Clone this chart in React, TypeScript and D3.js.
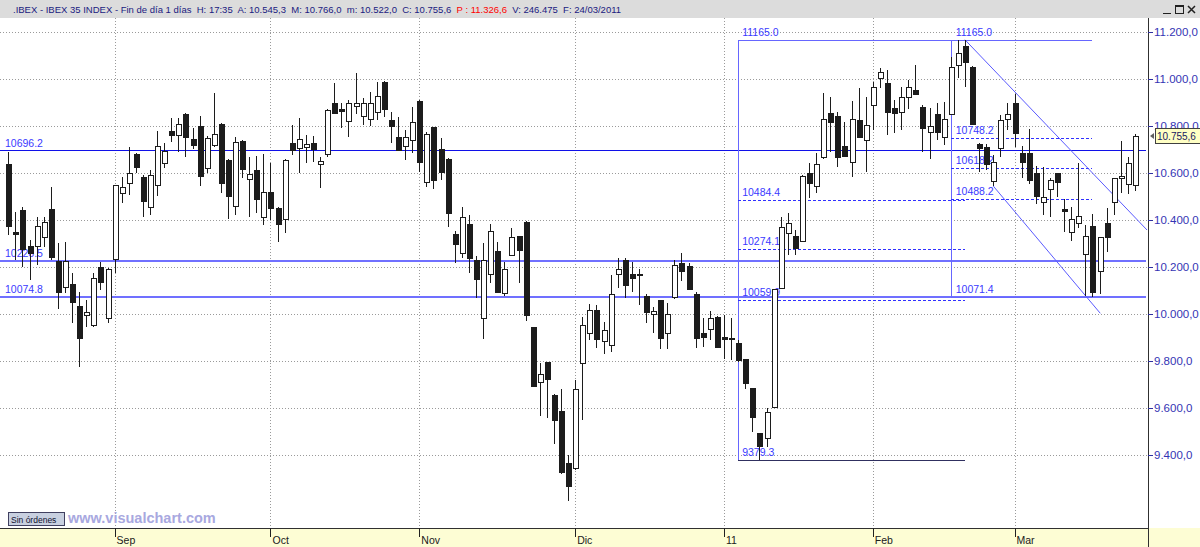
import React, { useEffect, useRef } from "react";
import * as d3 from "d3";

// IBEX 35 daily candles, 11 Aug 2010 .. 24 Mar 2011
const opens = [
  10635, 10346, 10441, 10288, 10288, 10325, 10444, 10223, 10115, 10127,
  10034, 9994, 9952, 10200, 9980, 10231, 10515, 10557, 10679, 10580,
  10453, 10546, 10642, 10778, 10760, 10849, 10742, 10800, 10621, 10717,
  10807, 10655, 10458, 10734, 10573, 10611, 10410, 10519, 10451, 10404,
  10727, 10703, 10708, 10726, 10638, 10679, 10897, 10870, 10819, 10883,
  10841, 10829, 10859, 10987, 10824, 10750, 10713, 10739, 10904, 10561,
  10793, 10699, 10658, 10338, 10257, 10381, 10228, 9981, 10168, 10268,
  10087, 10251, 10330, 10391, 9942, 9709, 9793, 9654, 9588, 9367,
  9345, 9789, 9917, 10016, 9885, 9866, 10169, 10228, 10169, 10167,
  10075, 9999, 10058, 9917, 10072, 10217, 10203, 10083, 9919, 9934,
  9987, 9900, 9897, 9876, 9806, 9683, 9492, 9470, 9605, 10108,
  10342, 10330, 10310, 10597, 10543, 10665, 10852, 10841, 10713, 10644,
  10824, 10739, 10888, 11002, 10982, 10876, 10856, 10920, 10951, 10880,
  10771, 10848, 10750, 10849, 11057, 11140, 11050, 10722, 10708, 10566,
  10703, 10828, 10897, 10685, 10685, 10597, 10476, 10530, 10597, 10447,
  10346, 10387, 10253, 10374, 10183, 10384, 10474, 10578, 10550, 10545.3,
];
const highs = [
  10689, 10434, 10455, 10313, 10413, 10413, 10540, 10302, 10306, 10172,
  10094, 10058, 10172, 10221, 10193, 10547, 10583, 10710, 10682, 10590,
  10611, 10777, 10727, 10831, 10831, 10855, 10788, 10841, 10756, 10937,
  10812, 10660, 10750, 10738, 10668, 10672, 10679, 10640, 10455, 10657,
  10803, 10831, 10760, 10756, 10668, 10870, 10982, 10895, 10909, 11022,
  10916, 10944, 10987, 10990, 10859, 10838, 10781, 10880, 10908, 10774,
  10795, 10746, 10661, 10353, 10452, 10420, 10245, 10300, 10380, 10304,
  10221, 10366, 10332, 10394, 9945, 9789, 9795, 9659, 9679, 9399,
  9718, 9987, 10040, 10037, 9966, 10165, 10236, 10236, 10221, 10189,
  10083, 10030, 10060, 10044, 10228, 10257, 10214, 10094, 9981, 10012,
  9990, 9994, 9981, 9890, 9808, 9685, 9495, 9598, 10104, 10413,
  10427, 10356, 10590, 10640, 10682, 10940, 10923, 10859, 10816, 10904,
  10958, 10923, 10987, 11045, 11036, 10910, 10965, 10994, 11057, 10887,
  10873, 10895, 10902, 11093, 11165, 11165, 11053, 10725, 10722, 10675,
  10845, 10895, 10934, 10713, 10784, 10628, 10625, 10576, 10600, 10487,
  10455, 10640, 10377, 10424, 10325, 10450, 10578, 10736, 10665, 10766.0,
];
const lows = [
  10335, 10229, 10200, 10143, 10207, 10285, 10228, 10019, 10087, 9959,
  9775, 9945, 9945, 10101, 9959, 10172, 10470, 10505, 10600, 10412,
  10420, 10500, 10618, 10731, 10689, 10668, 10699, 10543, 10597, 10710,
  10512, 10402, 10420, 10576, 10412, 10427, 10377, 10399, 10306, 10342,
  10675, 10597, 10639, 10646, 10533, 10665, 10848, 10788, 10753, 10849,
  10802, 10798, 10824, 10835, 10727, 10694, 10654, 10682, 10604, 10540,
  10529, 10569, 10370, 10217, 10236, 10172, 10066, 9891, 10132, 10090,
  10075, 10245, 10132, 9969, 9690, 9565, 9555, 9446, 9319, 9205,
  9336, 9548, 9888, 9853, 9828, 9836, 10108, 10066, 10094, 10037,
  9959, 9919, 9850, 9850, 10061, 10140, 10101, 9853, 9860, 9888,
  9856, 9806, 9803, 9795, 9679, 9498, 9379.3, 9435, 9600, 10105,
  10250, 10250, 10305, 10491, 10515, 10660, 10689, 10625, 10668, 10580,
  10748, 10604, 10781, 10960, 10760, 10770, 10781, 10869, 10930, 10689,
  10657, 10739, 10717, 10845, 11001, 10965, 10805, 10604, 10611, 10543,
  10668, 10781, 10708, 10576, 10552, 10467, 10420, 10412, 10498, 10349,
  10311, 10363, 10075, 10071.4, 10084, 10261, 10420, 10512, 10509, 10522.0,
];
const closes = [
  10374, 10340, 10274, 10260, 10373, 10391, 10240, 10094, 10223, 10051,
  9895, 10006, 10151, 10136, 10189, 10546, 10537, 10600, 10623, 10480,
  10590, 10715, 10693, 10761, 10807, 10753, 10717, 10586, 10746, 10764,
  10555, 10500, 10729, 10615, 10593, 10489, 10516, 10451, 10381, 10654,
  10696, 10742, 10720, 10702, 10648, 10866, 10852, 10863, 10897, 10895,
  10897, 10897, 10926, 10869, 10798, 10696, 10753, 10814, 10646, 10764,
  10569, 10603, 10427, 10295, 10410, 10236, 10149, 10228, 10350, 10094,
  10190, 10325, 10271, 9995, 9693, 9742, 9724, 9548, 9326, 9267,
  9679, 9951, 10016, 9891, 9931, 10083, 10189, 10122, 10153, 10165,
  10009, 10012, 9898, 10001, 10207, 10183, 10106, 9898, 9902, 9981,
  9860, 9891, 9891, 9803, 9704, 9562, 9438, 9583, 10104, 10370,
  10387, 10281, 10586, 10557, 10637, 10828, 10816, 10665, 10671, 10829,
  10750, 10803, 10965, 11028, 10859, 10855, 10923, 10965, 10934, 10791,
  10800, 10774, 10827, 11048, 11110, 11069, 10807, 10703, 10637, 10646,
  10824, 10849, 10767, 10646, 10569, 10501, 10498, 10569, 10560, 10436,
  10401, 10416, 10332, 10094, 10325, 10327, 10578, 10586, 10640, 10755.6,
];

const monthLabels = ["Sep", "Oct", "Nov", "Dic", "11", "Feb", "Mar"];
const monthStartBars = [15, 37, 58, 80, 101, 122, 142];
const priceTicks = [9400, 9600, 9800, 10000, 10200, 10400, 10600, 10800, 11000, 11200];

// horizontal support / resistance lines
const levelLines = [10696.2, 10226.5, 10074.8];
const levelLabels = ["10696.2", "10226.5", "10074.8"];

// retracement A (rally from Dec low), retracement B (Feb top)
const swingHigh = 11165.0;
const swingLowA = 9379.3;
const swingLowB = 10071.4;
const retraceA = [10484.4, 10274.1, 10059.9];
const retraceB = [10748.2, 10618.2, 10488.2];
const retraceBarsA = [103, 135];
const retraceBarsB = [133, 153];
const topLineEndBar = 153;

// descending channel: [bar, price]
const channelUpper = [[135, 11165], [160.7, 10356]];
const channelLower = [[139, 10543], [154.1, 10002]];

const lastPrice = 10755.6;
const headerParts = [
  { t: ".IBEX - IBEX 35 INDEX - Fin de día 1 días  H: 17:35  A: 10.545,3  M: 10.766,0  m: 10.522,0  C: 10.755,6  ", c: "#1a1a80" },
  { t: "P : 11.326,6", c: "#ff0000" },
  { t: "  V: 246.475  F: 24/03/2011", c: "#1a1a80" },
];

const W = 1200;
const H = 547;
const plotRight = 1148;
const plotTop = 18;
const plotBottom = 528;
const font = "'Liberation Sans', Arial, sans-serif";

export default function App() {
  const ref = useRef<SVGSVGElement>(null);

  useEffect(() => {
    const svg = d3.select(ref.current);
    svg.selectAll("*").remove();

    const x = d3.scaleLinear().domain([0, 159]).range([8.3, 1135]);
    const y = d3.scaleLinear().domain([9400, 11200]).range([454.9, 31.5]);
    const fmt = d3.formatLocale({ decimal: ",", thousands: ".", grouping: [3], currency: ["", ""] }).format(",.1f");
    const px = (v: number) => Math.round(v) + 0.5;

    // backgrounds
    svg.append("rect").attr("width", W).attr("height", H).attr("fill", "#ffffff");
    svg.append("rect").attr("x", 0).attr("y", plotBottom).attr("width", W).attr("height", H - plotBottom).attr("fill", "#fdfdd4");
    svg.append("rect").attr("x", 0).attr("y", 0).attr("width", W).attr("height", plotTop).attr("fill", "#dcdcdc");

    // grid
    const grid = svg.append("g").attr("stroke", "#9a9a9a").attr("stroke-dasharray", "1,2").attr("shape-rendering", "crispEdges");
    grid.selectAll("line.h").data(priceTicks).join("line")
      .attr("x1", 0).attr("x2", plotRight).attr("y1", (d) => px(y(d))).attr("y2", (d) => px(y(d)));
    grid.selectAll("line.v").data(monthStartBars).join("line")
      .attr("x1", (d) => px(x(d))).attr("x2", (d) => px(x(d))).attr("y1", plotTop).attr("y2", plotBottom);

    // level lines
    const lv = svg.append("g").attr("shape-rendering", "crispEdges");
    lv.selectAll("line").data(levelLines).join("line")
      .attr("x1", 0).attr("x2", plotRight - 2)
      .attr("y1", (d) => px(y(d))).attr("y2", (d) => px(y(d)))
      .attr("stroke", (d, i) => (i === 0 ? "#1010e8" : "#7070ff"))
      .attr("stroke-width", (d, i) => (i === 0 ? 1 : 2));
    lv.selectAll("text").data(levelLines).join("text")
      .attr("x", 5).attr("y", (d) => y(d) - 3)
      .attr("fill", "#3a3aff").attr("font-size", 10.5).attr("font-family", font)
      .text((d, i) => levelLabels[i]);

    // retracement boxes
    const fib = svg.append("g").attr("shape-rendering", "crispEdges");
    const solid = "#6666ff";
    const dash = "#3030ff";
    fib.append("line").attr("x1", px(x(retraceBarsA[0]))).attr("x2", px(x(retraceBarsA[0])))
      .attr("y1", y(swingHigh)).attr("y2", y(swingLowA)).attr("stroke", solid).attr("stroke-width", 1.5);
    fib.append("line").attr("x1", x(retraceBarsA[0])).attr("x2", x(topLineEndBar))
      .attr("y1", px(y(swingHigh))).attr("y2", px(y(swingHigh))).attr("stroke", solid).attr("stroke-width", 1.5);
    fib.append("line").attr("x1", x(retraceBarsA[0])).attr("x2", x(retraceBarsA[1]))
      .attr("y1", px(y(swingLowA))).attr("y2", px(y(swingLowA))).attr("stroke", "#303060").attr("stroke-width", 1);
    fib.selectAll("line.ra").data(retraceA).join("line")
      .attr("x1", x(retraceBarsA[0])).attr("x2", x(retraceBarsA[1]))
      .attr("y1", (d) => px(y(d))).attr("y2", (d) => px(y(d)))
      .attr("stroke", dash).attr("stroke-dasharray", "3,2");
    fib.append("line").attr("x1", px(x(retraceBarsB[0]))).attr("x2", px(x(retraceBarsB[0])))
      .attr("y1", y(swingHigh)).attr("y2", y(swingLowB)).attr("stroke", solid).attr("stroke-width", 1.5);
    fib.append("line").attr("x1", x(retraceBarsB[0])).attr("x2", x(retraceBarsB[1]))
      .attr("y1", px(y(swingLowB))).attr("y2", px(y(swingLowB))).attr("stroke", solid).attr("stroke-width", 1.5);
    fib.selectAll("line.rb").data(retraceB).join("line")
      .attr("x1", x(retraceBarsB[0])).attr("x2", x(retraceBarsB[1]))
      .attr("y1", (d) => px(y(d))).attr("y2", (d) => px(y(d)))
      .attr("stroke", dash).attr("stroke-dasharray", "3,2");

    const labA = [swingHigh, ...retraceA, swingLowA];
    const labB = [swingHigh, ...retraceB, swingLowB];
    const lab = svg.append("g").attr("fill", "#3a3aff").attr("font-size", 10.5).attr("font-family", font);
    lab.selectAll("text.a").data(labA).join("text")
      .attr("x", x(retraceBarsA[0]) + 4).attr("y", (d) => y(d) - 4).text((d) => d.toFixed(1));
    lab.selectAll("text.b").data(labB).enter().append("text")
      .attr("x", x(retraceBarsB[0]) + 5).attr("y", (d) => y(d) - 4).text((d) => d.toFixed(1));

    // channel
    const ln = d3.line<number[]>().x((d) => x(d[0])).y((d) => y(d[1]));
    svg.selectAll("path.ch").data([channelUpper, channelLower]).join("path")
      .attr("d", (d) => ln(d)).attr("fill", "none").attr("stroke", "#5a5aff").attr("stroke-width", 1);

    // candles
    const idx = d3.range(opens.length);
    const cg = svg.append("g").attr("shape-rendering", "crispEdges");
    const candle = cg.selectAll("g").data(idx).join("g");
    candle.append("line")
      .attr("x1", (i) => px(x(i))).attr("x2", (i) => px(x(i)))
      .attr("y1", (i) => Math.round(y(highs[i]))).attr("y2", (i) => Math.round(y(lows[i])))
      .attr("stroke", "#1c1c1c");
    candle.append("rect")
      .attr("x", (i) => Math.round(x(i)) - 2 + 0.5)
      .attr("y", (i) => Math.round(y(Math.max(opens[i], closes[i]))) + 0.5)
      .attr("width", 5)
      .attr("height", (i) => Math.max(1, Math.round(y(Math.min(opens[i], closes[i]))) - Math.round(y(Math.max(opens[i], closes[i])))))
      .attr("fill", (i) => (closes[i] >= opens[i] ? "#ffffff" : "#1c1c1c"))
      .attr("stroke", "#1c1c1c");

    // right price axis
    const ax = svg.append("g").attr("font-family", font).attr("font-size", 11.5);
    ax.append("line").attr("x1", plotRight + 0.5).attr("x2", plotRight + 0.5).attr("y1", plotTop).attr("y2", H).attr("stroke", "#303030");
    ax.selectAll("line.t").data(priceTicks).join("line")
      .attr("x1", plotRight).attr("x2", plotRight + 5)
      .attr("y1", (d) => px(y(d))).attr("y2", (d) => px(y(d))).attr("stroke", "#3030a0");
    ax.selectAll("text").data(priceTicks).join("text")
      .attr("x", plotRight + 6).attr("y", (d) => y(d) + 4).attr("fill", "#3434b4")
      .text((d) => fmt(d));
    const ly = y(lastPrice);
    ax.append("rect").attr("x", 1155.5).attr("y", Math.round(ly) - 7.5).attr("width", 48).attr("height", 15)
      .attr("fill", "#ffffc4").attr("stroke", "#404040");
    ax.append("text").attr("x", 1157).attr("y", ly + 4).attr("font-size", 10).attr("fill", "#202060").text(fmt(lastPrice));
    ax.append("path").attr("d", `M${plotRight + 2},${ly} l4,-3 v6 z`).attr("fill", "#606060");

    // bottom axis
    svg.append("line").attr("x1", 0).attr("x2", plotRight).attr("y1", plotBottom + 0.5).attr("y2", plotBottom + 0.5).attr("stroke", "#303030");
    const bx = svg.append("g").attr("font-family", font).attr("font-size", 10.5);
    bx.selectAll("line").data(monthStartBars).join("line")
      .attr("x1", (d) => px(x(d))).attr("x2", (d) => px(x(d))).attr("y1", plotBottom).attr("y2", plotBottom + 9).attr("stroke", "#202020");
    bx.selectAll("text").data(monthStartBars).join("text")
      .attr("x", (d) => x(d) + 2).attr("y", plotBottom + 16).attr("fill", "#202020")
      .text((d, i) => monthLabels[i]);

    // watermark + button
    svg.append("rect").attr("x", 8.5).attr("y", 512.5).attr("width", 56).attr("height", 13)
      .attr("fill", "#c8d0e0").attr("stroke", "#404060");
    svg.append("text").attr("x", 11).attr("y", 522.5).attr("font-family", font).attr("font-size", 8.5).attr("fill", "#101030").text("Sin órdenes");
    svg.append("text").attr("x", 68).attr("y", 523).attr("font-family", font).attr("font-size", 14.5).attr("font-weight", "bold")
      .attr("fill", "#a8a8e0").text("www.visualchart.com");

    // header
    const ht = svg.append("text").attr("x", 13).attr("y", 13).attr("font-family", font).attr("font-size", 9.5);
    headerParts.forEach((p) => ht.append("tspan").attr("fill", p.c).attr("xml:space", "preserve").text(p.t));
    ht.style("white-space", "pre");
    const wb = svg.append("g").attr("fill", "none").attr("stroke", "#202020");
    wb.append("line").attr("x1", 1163).attr("x2", 1171).attr("y1", 13.5).attr("y2", 13.5);
    wb.append("rect").attr("x", 1175.5).attr("y", 5.5).attr("width", 8).attr("height", 8);
    wb.append("line").attr("x1", 1175.5).attr("x2", 1183.5).attr("y1", 6.5).attr("y2", 6.5);
    wb.append("path").attr("d", "M1188,6 l7,7 M1195,6 l-7,7").attr("stroke-width", 1.5);
  }, []);

  return (
    <svg
      ref={ref}
      width={W}
      height={H}
      style={{ position: "absolute", left: 0, top: 0, display: "block" }}
    />
  );
}
